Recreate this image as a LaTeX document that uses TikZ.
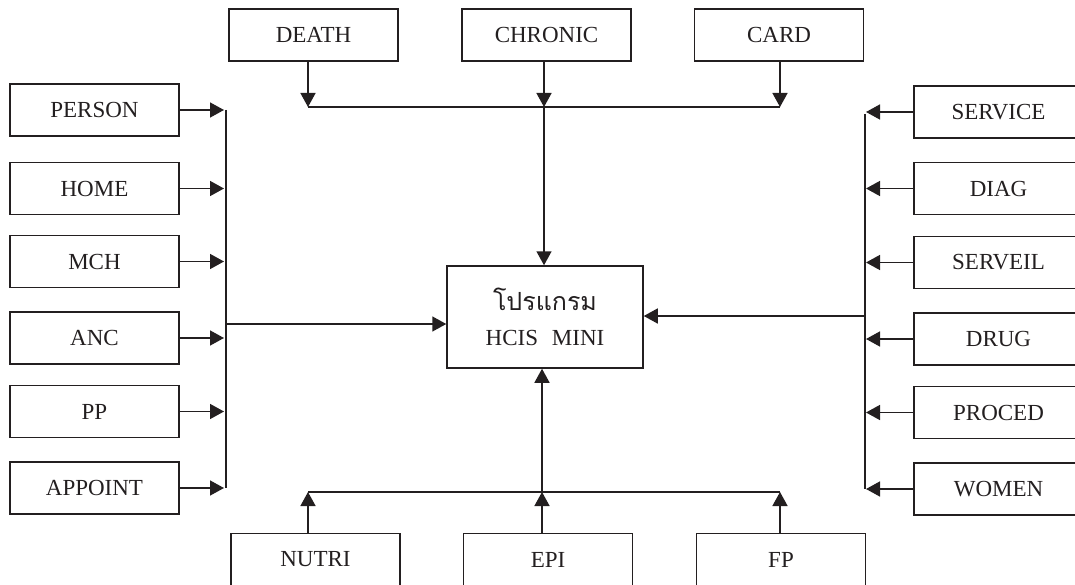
\documentclass[tikz,border=0pt]{standalone}
\usepackage{fontspec}
\setmainfont{Liberation Serif}
\newfontfamily\thaifont[Script=Thai]{Loma}
\usetikzlibrary{arrows.meta}
\definecolor{ink}{RGB}{35,31,32}
\begin{document}
\begin{tikzpicture}[x=1pt,y=-1pt,
  box/.style={draw=ink,line width=1.5pt,minimum width=169pt,minimum height=52pt,inner sep=0pt,font=\fontsize{23}{26}\selectfont,text=ink},
  conn/.style={draw=ink,line width=1.5pt},
  arr/.style={conn,-{Triangle[length=14pt,width=15pt]}}]
\useasboundingbox (0,0) rectangle (1075,585);
\clip (0,0) rectangle (1075,585);
% top
\node[box] (DEATH) at (313.5,35) {DEATH};
\node[box] (CHRONIC) at (546.5,35) {CHRONIC};
\node[box] (CARD) at (779,35) {CARD};
% bottom
\node[box] (NUTRI) at (315.5,559.5) {NUTRI};
\node[box] (EPI) at (548,559.5) {EPI};
\node[box] (FP) at (781,559.5) {FP};
% left
\node[box] (PERSON) at (94.5,110) {PERSON};
\node[box] (HOME) at (94.5,188.5) {HOME};
\node[box] (MCH) at (94.5,261.5) {MCH};
\node[box] (ANC) at (94.5,338) {ANC};
\node[box] (PP) at (94.5,411.5) {PP};
\node[box] (APPOINT) at (94.5,488) {APPOINT};
% right
\node[box] (SERVICE) at (998.5,112) {SERVICE};
\node[box] (DIAG) at (998.5,188.5) {DIAG};
\node[box] (SERVEIL) at (998.5,262.5) {SERVEIL};
\node[box] (DRUG) at (998.5,339) {DRUG};
\node[box] (PROCED) at (998.5,412.5) {PROCED};
\node[box] (WOMEN) at (998.5,489) {WOMEN};
% centre
\node[box,minimum width=196pt,minimum height=102pt,align=center] (HCIS) at (545,317)
  {{\thaifont\fontsize{25}{28}\selectfont โปรแกรม}\\[9pt]HCIS\hspace{0.6em}MINI};
% bus coordinates
\coordinate (lbus) at (226,0);
\coordinate (rbus) at (865,0);
\coordinate (tbus) at (0,107);
\coordinate (bbus) at (0,492);
\coordinate (ltip) at (224,0);
\coordinate (rtip) at (866,0);
% top connectors
\draw[arr] ([xshift=-5.5pt]DEATH.south) -- ([xshift=-5.5pt]DEATH.south |- tbus);
\draw[arr] ([xshift=-2.5pt]CHRONIC.south) -- ([xshift=-2.5pt]CHRONIC.south |- tbus);
\draw[arr] ([xshift=1pt]CARD.south) -- ([xshift=1pt]CARD.south |- tbus);
\draw[conn] ([xshift=-5.5pt]DEATH.south |- tbus) -- ([xshift=1pt]CARD.south |- tbus);
\draw[arr] ([xshift=-2.5pt]CHRONIC.south |- tbus) -- ([xshift=-2.5pt]CHRONIC.south |- HCIS.north);
% bottom connectors
\draw[arr] ([xshift=-7.5pt]NUTRI.north) -- ([xshift=-7.5pt]NUTRI.north |- bbus);
\draw[arr] ([xshift=-6pt]EPI.north) -- ([xshift=-6pt]EPI.north |- bbus);
\draw[arr] ([xshift=-1pt]FP.north) -- ([xshift=-1pt]FP.north |- bbus);
\draw[conn] ([xshift=-7.5pt]NUTRI.north |- bbus) -- ([xshift=-1pt]FP.north |- bbus);
\draw[arr] ([xshift=-6pt]EPI.north |- bbus) -- ([xshift=-6pt]EPI.north |- HCIS.south);
% left connectors
\foreach \n in {PERSON,HOME,MCH,ANC,PP,APPOINT}
  \draw[arr] (\n.east) -- (\n.east -| ltip);
\draw[conn] (PERSON.east -| lbus) -- (APPOINT.east -| lbus);
\draw[arr] ([yshift=-7pt]HCIS.west -| lbus) -- ([yshift=-7pt]HCIS.west);
% right connectors
\foreach \n in {SERVICE,DIAG,SERVEIL,DRUG,PROCED,WOMEN}
  \draw[arr] (\n.west) -- (\n.west -| rtip);
\draw[conn] ([yshift=-2pt]SERVICE.west -| rbus) -- (WOMEN.west -| rbus);
\draw[arr] ([yshift=1pt]HCIS.east -| rbus) -- ([yshift=1pt]HCIS.east);
\end{tikzpicture}
\end{document}
